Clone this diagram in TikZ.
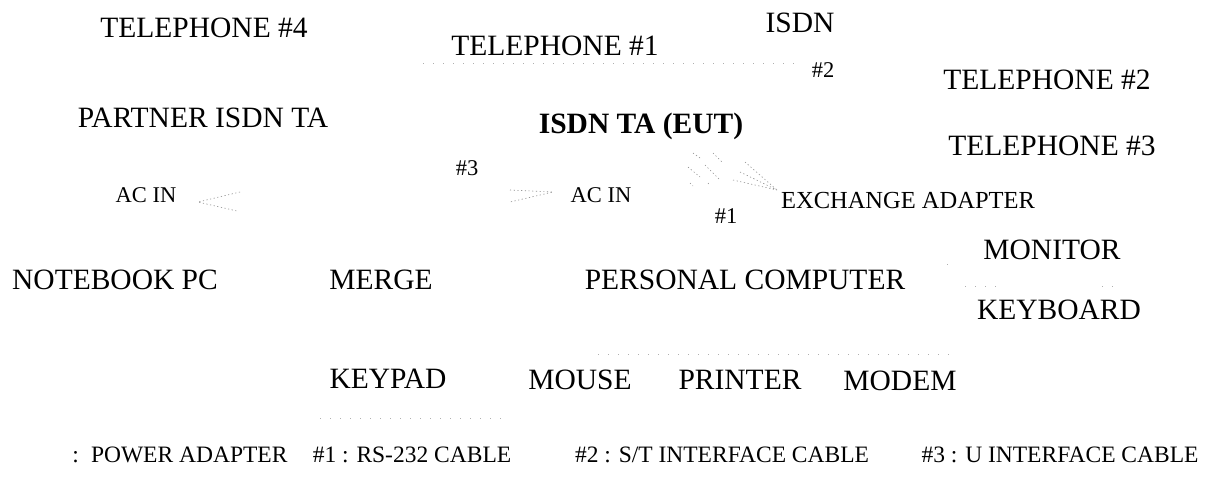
\documentclass[tikz,border=0pt]{standalone}
\usepackage{fontspec}
\setmainfont{Liberation Serif}
\usetikzlibrary{arrows.meta,positioning}
\definecolor{tracegray}{HTML}{8C8C8C}
\tikzset{device/.style={inner sep=0pt,anchor=base,text=black,
 font=\fontsize{29.5}{31}\selectfont},
 eut/.style={device,font=\fontsize{29.5}{31}\selectfont\bfseries},
 port/.style={inner sep=0pt,anchor=base,text=black,
 font=\fontsize{22.5}{24}\selectfont},
 legend/.style={port,font=\fontsize{23.5}{25}\selectfont},
 trace/.style={draw=tracegray,line width=.6pt,dash pattern=on 1.2pt off 2.5pt},
 faint/.style={draw=tracegray!70,line width=.6pt,dash pattern=on 1pt off 9pt}}

\begin{document}
\begin{tikzpicture}[x=1pt,y=-1pt]
 \useasboundingbox (0,0) rectangle (1222,477);
 % telephones and adapters
 \node[device] (tel4) at (204,37) {TELEPHONE \#4};
 \node[device] (partner) at (203,127) {PARTNER ISDN TA};
 \node[device] (tel1) at (555,55) {TELEPHONE \#1};
 \node[device] (isdn) at (800,32) {ISDN};
 \node[device] (tel2) at (1047,89) {TELEPHONE \#2};
 \node[eut] (eut) at (641,133) {ISDN TA (EUT)};
 \node[device] (tel3) at (1052,155) {TELEPHONE \#3};
 \node[port] (acinL) at (146,202) {AC IN};
 \node[port] (acinM) at (601,202) {AC IN};
 \node[port,font=\fontsize{24.5}{26}\selectfont] (exch) at (908,208) {EXCHANGE ADAPTER};
 \node[port] (c2) at (823,77) {\#2};
 \node[port] (c3) at (467,175) {\#3};
 \node[port] (c1) at (726,223) {\#1};
 % computers
 \node[device] (monitor) at (1052,259) {MONITOR};
 \node[device] (notebook) at (115,289) {NOTEBOOK PC};
 \node[device] (merge) at (381,289) {MERGE};
 \node[device] (pc) at (745,289) {PERSONAL COMPUTER};
 \node[device] (keyboard) at (1059,319) {KEYBOARD};
 \node[device] (keypad) at (388,388) {KEYPAD};
 \node[device] (mouse) at (580,389) {MOUSE};
 \node[device] (printer) at (740,389) {PRINTER};
 \node[device] (modem) at (900,390) {MODEM};
 % legend
 \node[legend] (lgpow) at (180,462) {:\hspace{12pt}POWER ADAPTER};
 \node[legend] (lgrs) at (412,462) {\#1 : RS-232 CABLE};
 \node[legend] (lgst) at (722,462) {\#2 : S/T INTERFACE CABLE};
 \node[legend] (lgu) at (1060,462) {\#3 : U INTERFACE CABLE};
 % power adapter arrows
 \coordinate (acLtip) at (198,202);
 \coordinate (acLa) at (240,192);
 \coordinate (acLb) at (237,211);
 \draw[trace] (acLa) -- (acLtip) -- (acLb);
 \coordinate (acMtip) at (553,192);
 \coordinate (acMa) at (510,190);
 \coordinate (acMb) at (510,202);
 \draw[trace] (acMa) -- (acMtip) -- (acMb);
 \coordinate (exTip) at (777,190);
 \draw[trace] (745,162) -- (exTip) (740,172) -- (exTip) (733,180) -- (exTip);
 % rs-232 cable hatch
 \draw[trace] (688,167) -- (700,177) (705,165) -- (720,180)
              (713,153) -- (722,162) (693,153) -- (700,158)
              (690,183) -- (693,186) (708,183) -- (710,186);
 % faint traces
 \draw[faint] (423,63) -- (803,63);
 \draw[faint] (598,354) -- (949,354);
 \draw[faint] (320,418) -- (505,418);
 \draw[faint] (965,286) -- (999,286) (1102,286) -- (1122,286);
 \draw[faint] (947,264) -- (955,264);
\end{tikzpicture}
\end{document}
